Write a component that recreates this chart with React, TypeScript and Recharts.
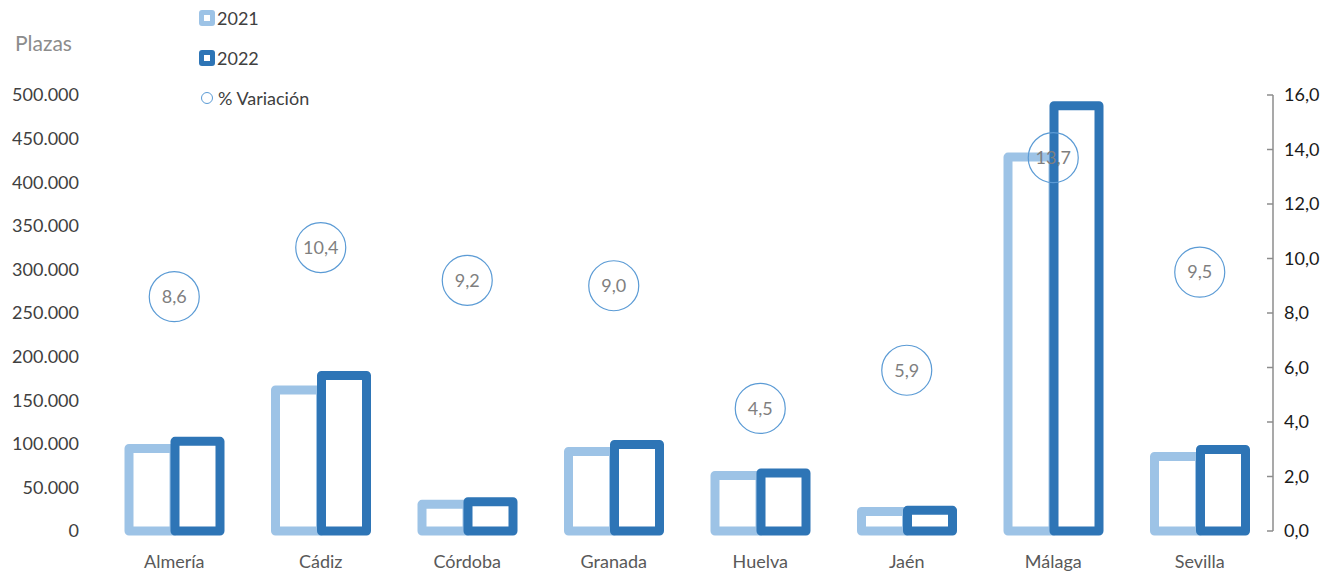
import React from "react";
import { ComposedChart, Bar, Scatter, XAxis, YAxis } from "recharts";

const provincias = ["Almería", "Cádiz", "Córdoba", "Granada", "Huelva", "Jaén", "Málaga", "Sevilla"];
const plazas2021 = [94600, 161800, 30600, 91200, 63600, 22400, 428800, 85400];
const plazas2022 = [102800, 178300, 33600, 99200, 66600, 23700, 487800, 93500];
const variacion = [8.6, 10.4, 9.2, 9.0, 4.5, 5.9, 13.7, 9.5];
const ticksIzq = [0, 50000, 100000, 150000, 200000, 250000, 300000, 350000, 400000, 450000, 500000];
const ticksDer = [0, 2, 4, 6, 8, 10, 12, 14, 16];

const CLARO = "#9DC3E6";
const OSCURO = "#2E75B6";
const CIRCULO = "#5B9BD5";
const FUENTE = "Lato, 'Noto Sans', sans-serif";

const datos = provincias.map((p, i) => ({
  provincia: p,
  a2021: plazas2021[i],
  a2022: plazas2022[i],
  variacion: variacion[i],
}));

const miles = (v: number) => String(v).replace(/\B(?=(\d{3})+(?!\d))/g, ".");
const coma = (v: number) => v.toFixed(1).replace(".", ",");

function TickDerecho(props: any) {
  const { x, y, payload } = props;
  const ejeX = x - 11;
  return (
    <g>
      <line x1={ejeX - 6} y1={y} x2={ejeX} y2={y} stroke="#8c8c8c" strokeWidth={1.5} />
      <text x={x} y={y} dy="0.35em" textAnchor="start" fontSize={18} fill="#1a1a1a" fontFamily={FUENTE}>
        {coma(payload.value)}
      </text>
    </g>
  );
}

function Burbuja(props: any) {
  const { cx, cy, payload } = props;
  return (
    <g>
      <circle cx={cx} cy={cy} r={25} fill="none" stroke={CIRCULO} strokeWidth={1.2} />
      <text x={cx} y={cy} dy="0.35em" textAnchor="middle" fontSize={18} fill="#7f7f7f" fontFamily={FUENTE}>
        {coma(payload.variacion)}
      </text>
    </g>
  );
}

function Leyenda() {
  const cuadro = (color: string) => (
    <span
      style={{
        display: "inline-block",
        width: 16,
        height: 16,
        borderRadius: 3,
        background: color,
        position: "relative",
        marginRight: 2,
      }}
    >
      <span style={{ position: "absolute", left: 5, top: 5, width: 6, height: 6, background: "#fff" }} />
    </span>
  );
  const fila: React.CSSProperties = { height: 40, display: "flex", alignItems: "center", fontSize: 18, color: "#404040" };
  return (
    <div style={{ position: "absolute", left: 199, top: -2, fontFamily: FUENTE }}>
      <div style={fila}>{cuadro(CLARO)}2021</div>
      <div style={fila}>{cuadro(OSCURO)}2022</div>
      <div style={fila}>
        <span
          style={{
            display: "inline-block",
            width: 10,
            height: 10,
            borderRadius: "50%",
            border: `1.5px solid ${CIRCULO}`,
            marginLeft: 2,
            marginRight: 5,
          }}
        />
        % Variación
      </div>
    </div>
  );
}

export default function App() {
  return (
    <div style={{ position: "absolute", left: 0, top: 0, width: 1332, height: 574, background: "#fff" }}>
      <ComposedChart
        width={1332}
        height={574}
        data={datos}
        margin={{ top: 95, right: 0, bottom: 0, left: 0 }}
        barGap={1}
      >
        <XAxis
          dataKey="provincia"
          axisLine={false}
          tickLine={false}
          tickSize={0}
          tickMargin={24}
          height={43}
          tick={{ fontSize: 18, fill: "#595959", fontFamily: FUENTE }}
        />
        <YAxis
          yAxisId="left"
          orientation="left"
          width={101}
          domain={[0, 500000]}
          ticks={ticksIzq}
          interval={0}
          axisLine={false}
          tickLine={false}
          tickSize={0}
          tickMargin={22}
          tickFormatter={miles}
          tick={{ fontSize: 18, fill: "#404040", fontFamily: FUENTE }}
        />
        <YAxis
          yAxisId="right"
          orientation="right"
          width={59}
          domain={[0, 16]}
          ticks={ticksDer}
          interval={0}
          axisLine={{ stroke: "#8c8c8c", strokeWidth: 1.5 }}
          tickLine={false}
          tickSize={0}
          tickMargin={11}
          tick={<TickDerecho />}
        />
        <Bar
          yAxisId="left"
          dataKey="a2021"
          name="2021"
          barSize={45}
          fill="#fff"
          stroke={CLARO}
          strokeWidth={9}
          strokeLinejoin="round"
          isAnimationActive={false}
        />
        <Bar
          yAxisId="left"
          dataKey="a2022"
          name="2022"
          barSize={45}
          fill="#fff"
          stroke={OSCURO}
          strokeWidth={9}
          strokeLinejoin="round"
          isAnimationActive={false}
        />
        <Scatter
          yAxisId="right"
          dataKey="variacion"
          name="% Variación"
          shape={<Burbuja />}
          isAnimationActive={false}
        />
      </ComposedChart>
      <Leyenda />
      <div style={{ position: "absolute", left: 15, top: 30, fontSize: 21, color: "#8c8c8c", fontFamily: FUENTE }}>
        Plazas
      </div>
    </div>
  );
}
